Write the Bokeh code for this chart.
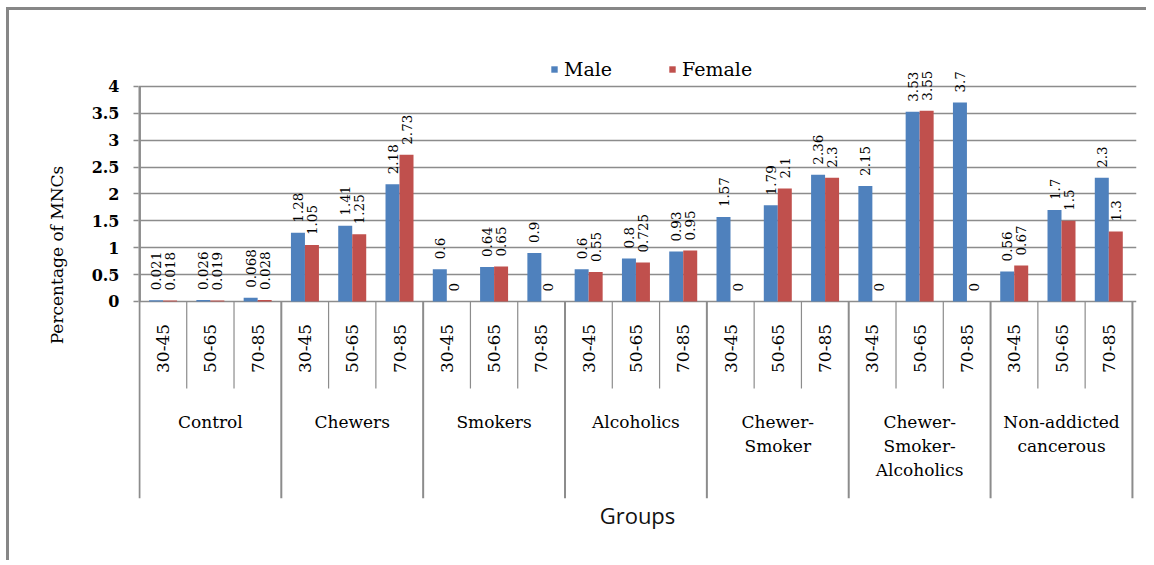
from math import pi
from bokeh.plotting import figure
from bokeh.models import Range1d, FixedTicker, ColumnDataSource, Legend, LegendItem
from bokeh.layouts import column
from bokeh.embed import file_html
from bokeh.resources import INLINE
from bokeh.core.properties import value

# ---------------- data ----------------
groups = ["Control", "Chewers", "Smokers", "Alcoholics", "Chewer-\nSmoker",
          "Chewer-\nSmoker-\nAlcoholics", "Non-addicted\ncancerous"]
ages = ["30-45", "50-65", "70-85"]
male = [0.021, 0.026, 0.068,
        1.28, 1.41, 2.18,
        0.6, 0.64, 0.9,
        0.6, 0.8, 0.93,
        1.57, 1.79, 2.36,
        2.15, 3.53, 3.7,
        0.56, 1.7, 2.3]
female = [0.018, 0.019, 0.028,
          1.05, 1.25, 2.73,
          0, 0.65, 0,
          0.55, 0.725, 0.95,
          0, 2.1, 2.3,
          0, 3.55, 0,
          0.67, 1.5, 1.3]
y_ticks = [0, 0.5, 1, 1.5, 2, 2.5, 3, 3.5, 4]
y_tick_labels = ["0", "0.5", "1", "1.5", "2", "2.5", "3", "3.5", "4"]
series_names = ["Male", "Female"]
x_title = "Groups"
y_title = "Percentage of MNCs"

# ---------------- styling ----------------
BLUE = "#4F81BD"
RED = "#C0504D"
GRID = "#8c8c8c"
SERIF = "DejaVu Serif"

n_age = len(ages)
n_grp = len(groups)
slots = n_grp * n_age
bw = 0.296
y_lo, y_hi = -3.665, 5.395

centers = [i + 0.5 for i in range(slots)]
src = ColumnDataSource(dict(
    xm=[c - bw / 2 for c in centers],
    xf=[c + bw / 2 for c in centers],
    male=male, female=female,
    mlab=[f"{v:g}" for v in male],
    flab=[f"{v:g}" for v in female],
))

p = figure(frame_width=998, frame_height=487,
           min_border_left=129, min_border_right=10, min_border_top=1, min_border_bottom=40,
           x_range=Range1d(-0.02, slots + 0.086), y_range=Range1d(y_lo, y_hi),
           output_backend="svg", toolbar_location=None, title=None)
p.outline_line_color = None
p.background_fill_color = "white"

# grid
p.xgrid.visible = False
p.ygrid.ticker = FixedTicker(ticks=y_ticks)
p.ygrid.grid_line_color = GRID
p.ygrid.grid_line_width = 1.5

# y axis
p.yaxis.ticker = FixedTicker(ticks=y_ticks)
p.yaxis.major_label_overrides = {t: l for t, l in zip(y_ticks, y_tick_labels)}
p.yaxis.axis_line_color = None
p.yaxis.major_tick_line_color = GRID
p.yaxis.major_tick_line_width = 1.5
p.yaxis.major_tick_out = 5
p.yaxis.major_tick_in = 0
p.yaxis.minor_tick_line_color = None
p.yaxis.major_label_standoff = 14
p.yaxis.major_label_text_font = SERIF
p.yaxis.major_label_text_font_style = "bold"
p.yaxis.major_label_text_font_size = "16px"
p.yaxis.major_label_text_color = "black"
p.yaxis.axis_label = y_title
p.yaxis.axis_label_text_font = SERIF
p.yaxis.axis_label_text_font_style = "normal"
p.yaxis.axis_label_text_font_size = "17px"
p.yaxis.axis_label_text_color = "black"
p.yaxis.axis_label_standoff = 22
p.yaxis.bounds = (0, 4)

# x axis (title only)
p.xaxis.ticker = FixedTicker(ticks=[])
p.xaxis.axis_line_color = None
p.xaxis.major_tick_line_color = None
p.xaxis.minor_tick_line_color = None
p.xaxis.major_label_text_font_size = "0px"
p.xaxis.axis_label = x_title
p.xaxis.axis_label_text_font = "Open Sans"
p.xaxis.axis_label_text_font_style = "normal"
p.xaxis.axis_label_text_font_size = "22px"
p.xaxis.axis_label_text_color = "#111111"
p.xaxis.axis_label_standoff = 1

# separators of the category axis
grp_x = [g * n_age for g in range(n_grp + 1)]
p.segment(x0=grp_x, y0=[0] * len(grp_x), x1=grp_x, y1=[y_lo] * len(grp_x),
          line_color=GRID, line_width=2)
p.segment(x0=[0], y0=[0], x1=[0], y1=[y_ticks[-1]], line_color=GRID, line_width=3)
age_x = [i for i in range(1, slots) if i % n_age != 0]
p.segment(x0=age_x, y0=[0] * len(age_x), x1=age_x, y1=[-1.62] * len(age_x),
          line_color=GRID, line_width=1.2)

# bars
rm = p.vbar(x="xm", top="male", width=bw, source=src, fill_color=BLUE, line_color=None)
rf = p.vbar(x="xf", top="female", width=bw, source=src, fill_color=RED, line_color=None)

# data labels
for xcol, ycol, tcol in (("xm", "male", "mlab"), ("xf", "female", "flab")):
    p.text(x=xcol, y=ycol, text=tcol, source=src, angle=pi / 2,
           text_align="left", text_baseline="middle", y_offset=-10,
           text_font=value(SERIF), text_font_size="13.5px", text_color="black")

# age labels
p.text(x=centers, y=[-0.874] * slots, text=ages * n_grp, angle=pi / 2,
       text_align="center", text_baseline="middle",
       text_font=value(SERIF), text_font_size="17px", text_color="black")

# group labels
p.text(x=[g * n_age + n_age / 2 for g in range(n_grp)], y=[-2.047] * n_grp, text=groups,
       text_align="center", text_baseline="top", text_line_height=1.2,
       text_font=value(SERIF), text_font_size="17px", text_color="black")

# legend
legend = Legend(items=[LegendItem(label=series_names[0], renderers=[rm]),
                       LegendItem(label=series_names[1], renderers=[rf])],
                orientation="horizontal", location=(412, 418),
                glyph_width=8, glyph_height=8, label_standoff=6, spacing=56,
                padding=0, margin=0, border_line_color=None, background_fill_alpha=0,
                label_text_font=SERIF, label_text_font_size="19px",
                label_text_color="black", label_height=22)
p.add_layout(legend)

layout = column(p, styles={"border-top": "3px solid #878787",
                           "border-left": "3px solid #878787",
                           "margin-top": "7px", "margin-left": "6px",
                           "padding-bottom": "22px"})

open("out.html", "w").write(file_html(layout, INLINE))
